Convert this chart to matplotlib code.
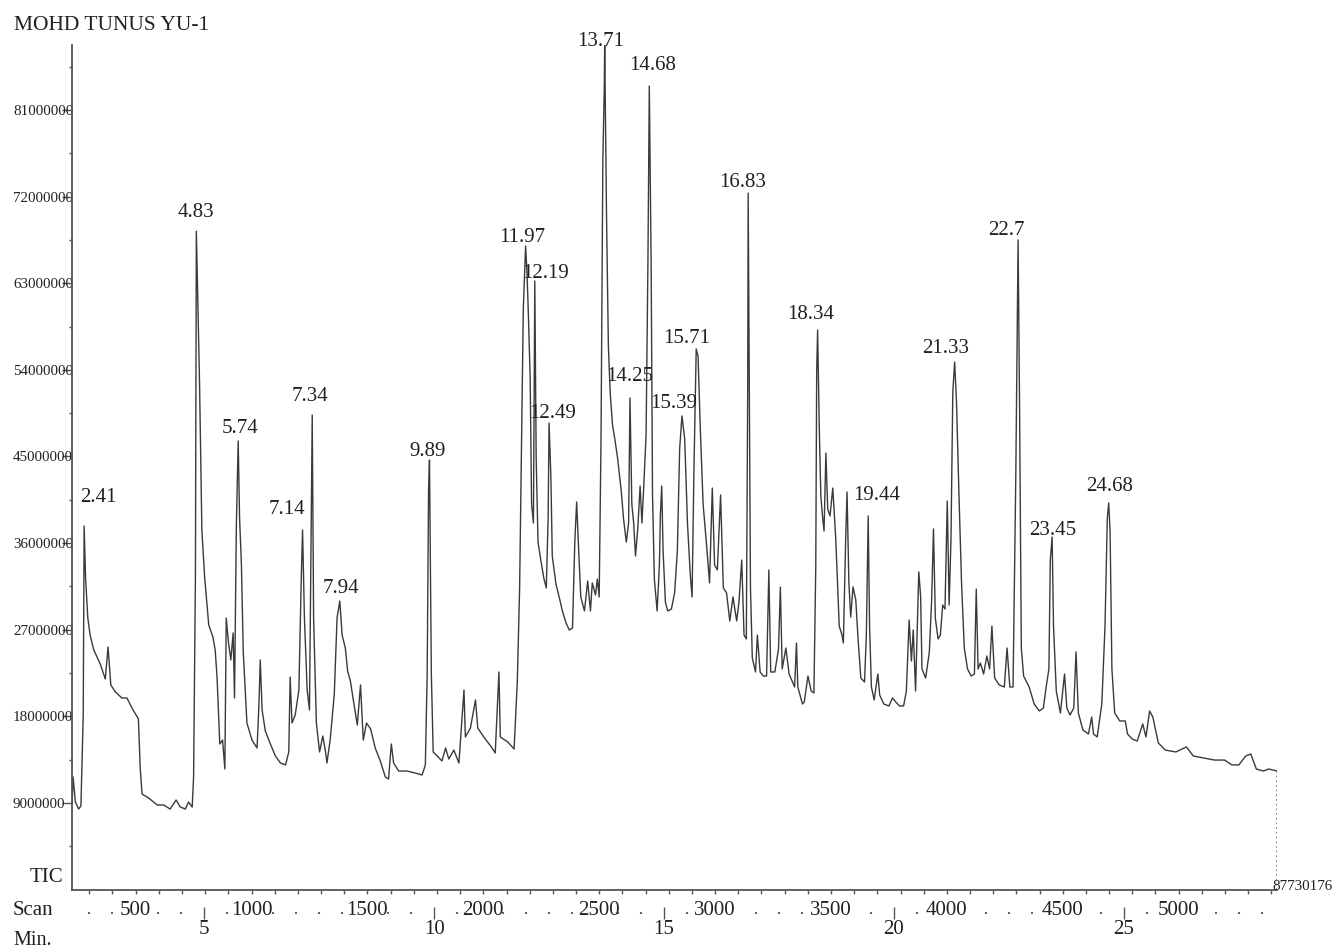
import numpy as np
import matplotlib
matplotlib.use('Agg')
import matplotlib.pyplot as plt
from matplotlib.ticker import FixedLocator

plt.rcParams['font.family'] = ['Liberation Serif', 'DejaVu Serif']

# --- data (time in min, intensity in millions of counts) ---
time_a = [2.13, 2.15, 2.20, 2.27, 2.32, 2.37, 2.39, 2.42, 2.47, 2.52,
          2.60, 2.74, 2.85, 2.91, 2.97, 3.07, 3.21, 3.32, 3.43, 3.57,
          3.61, 3.65, 3.79, 3.98, 4.12, 4.26, 4.39, 4.48, 4.59, 4.66,
          4.74, 4.77, 4.81, 4.83, 4.86, 4.90, 4.95, 5.01, 5.10, 5.19,
          5.24, 5.28, 5.34, 5.40, 5.45, 5.48, 5.53, 5.58, 5.63, 5.66,
          5.70, 5.74, 5.77, 5.81, 5.85, 5.93, 6.04, 6.15, 6.19, 6.22,
          6.26, 6.33, 6.44, 6.55, 6.66, 6.77, 6.84, 6.87, 6.91, 6.98,
          7.06, 7.11, 7.14, 7.18, 7.24, 7.29, 7.35, 7.38, 7.44, 7.51,
          7.58, 7.64, 7.67, 7.74, 7.83, 7.89, 7.95, 8.00, 8.07, 8.12,
          8.18, 8.25, 8.33, 8.40, 8.46, 8.53, 8.62, 8.72, 8.83, 8.94,
          9.01, 9.07, 9.12, 9.23, 9.41, 9.59, 9.74, 9.81, 9.85, 9.88,
          9.90, 9.94, 9.98, 10.07, 10.17, 10.25, 10.32, 10.43, 10.54]
tic_a = [9.05, 11.70, 9.10, 8.37, 8.69, 18.14, 37.78, 32.48, 28.22, 26.45,
         24.89, 23.44, 21.88, 25.21, 21.26, 20.53, 19.91, 19.91, 18.87, 17.73,
         12.53, 9.93, 9.52, 8.79, 8.79, 8.37, 9.31, 8.58, 8.37, 9.10,
         8.58, 11.70, 32.48, 68.40, 61.67, 52.53, 37.36, 32.48, 27.49, 26.24,
         24.89, 22.09, 15.13, 15.54, 12.53, 28.22, 25.62, 23.86, 26.66, 19.91,
         37.78, 46.61, 38.61, 33.83, 24.69, 17.31, 15.54, 14.71, 19.08, 23.86,
         18.66, 16.48, 15.13, 13.88, 13.15, 12.95, 14.30, 22.09, 17.31, 18.14,
         20.74, 32.06, 37.36, 28.22, 20.74, 18.66, 49.31, 28.22, 17.31, 14.30,
         15.96, 14.30, 13.15, 15.54, 20.32, 28.22, 29.98, 26.45, 25.10, 22.71,
         21.67, 19.49, 17.10, 21.26, 15.54, 17.31, 16.69, 14.71, 13.36, 11.70,
         11.49, 15.13, 13.15, 12.32, 12.32, 12.11, 11.91, 12.95, 22.50, 41.62,
         44.63, 22.50, 14.30, 13.88, 13.36, 14.71, 13.57, 14.50, 13.15]

time_b = [10.65, 10.68, 10.79, 10.90, 10.95, 11.08, 11.23, 11.33, 11.41, 11.44,
          11.60, 11.74, 11.81, 11.86, 11.90, 11.94, 11.99, 12.02, 12.05, 12.09,
          12.12, 12.16, 12.19, 12.22, 12.26, 12.32, 12.39, 12.44, 12.48, 12.50,
          12.54, 12.57, 12.65, 12.72, 12.79, 12.87, 12.94, 13.01, 13.06, 13.10,
          13.14, 13.19, 13.27, 13.34, 13.40, 13.44, 13.51, 13.55, 13.59, 13.63,
          13.67, 13.70, 13.71, 13.75, 13.79, 13.83, 13.88, 13.93, 13.99, 14.07,
          14.12, 14.18, 14.23, 14.26, 14.30, 14.34, 14.38, 14.43, 14.48, 14.52,
          14.56, 14.61, 14.65, 14.68, 14.72, 14.75, 14.79, 14.85, 14.90, 14.92,
          14.95, 14.98, 15.03, 15.08, 15.16, 15.23, 15.29, 15.34, 15.39, 15.45,
          15.51, 15.57, 15.61, 15.65, 15.70, 15.74, 15.79, 15.85, 15.92, 15.99,
          16.05, 16.10, 16.16, 16.23, 16.29, 16.36, 16.43, 16.50, 16.58, 16.63,
          16.69, 16.74, 16.79, 16.82, 16.83, 16.88, 16.92, 16.99, 17.03, 17.09,
          17.16, 17.23, 17.28, 17.32, 17.41, 17.49]
tic_b = [20.74, 15.86, 16.79, 19.70, 16.79, 15.86, 14.92, 14.19, 22.61, 15.86,
         15.34, 14.61, 21.67, 31.34, 45.78, 60.32, 66.87, 64.17, 59.80, 53.05,
         40.06, 38.09, 63.23, 44.84, 36.11, 34.24, 32.27, 31.34, 38.61, 48.48,
         42.87, 34.66, 31.75, 30.40, 28.95, 27.70, 26.97, 27.18, 36.11, 40.27,
         35.70, 30.40, 28.95, 32.06, 28.95, 31.86, 30.61, 32.27, 30.40, 46.82,
         75.80, 83.08, 87.73, 69.98, 56.48, 51.60, 48.27, 46.82, 44.84, 41.41,
         38.50, 36.11, 38.09, 51.08, 40.06, 38.09, 34.66, 37.57, 41.93, 38.09,
         41.93, 47.23, 65.10, 83.49, 65.10, 41.00, 32.27, 28.95, 33.73, 38.82,
         41.93, 35.18, 29.88, 28.95, 29.15, 30.82, 35.18, 45.78, 49.21, 46.82,
         38.09, 32.79, 30.40, 43.39, 56.17, 55.44, 47.75, 40.06, 36.11, 31.86,
         41.72, 33.73, 33.21, 41.00, 31.34, 30.82, 27.91, 30.40, 27.91, 29.88,
         34.24, 26.45, 26.04, 52.11, 72.37, 31.34, 24.06, 22.61, 26.45, 22.61,
         22.19, 22.19, 33.21, 22.61, 22.61, 25.00]

time_c = [17.53, 17.57, 17.65, 17.72, 17.84, 17.88, 17.91, 18.01, 18.05, 18.13,
          18.20, 18.26, 18.30, 18.32, 18.34, 18.38, 18.41, 18.45, 18.48, 18.52,
          18.56, 18.61, 18.67, 18.73, 18.77, 18.81, 18.87, 18.90, 18.95, 18.98,
          19.02, 19.06, 19.11, 19.17, 19.22, 19.28, 19.36, 19.40, 19.44, 19.47,
          19.51, 19.57, 19.65, 19.69, 19.78, 19.89, 19.97, 20.04, 20.12, 20.21,
          20.27, 20.33, 20.38, 20.42, 20.47, 20.54, 20.58, 20.61, 20.69, 20.77,
          20.82, 20.86, 20.90, 20.96, 21.01, 21.06, 21.11, 21.16, 21.20, 21.24,
          21.28, 21.32, 21.36, 21.41, 21.47, 21.53, 21.60, 21.68, 21.75, 21.79,
          21.83, 21.88, 21.95, 22.02, 22.08, 22.13, 22.19, 22.29, 22.40, 22.46,
          22.52, 22.59, 22.65, 22.70, 22.73, 22.77, 22.82, 22.94, 23.05, 23.16,
          23.25, 23.31, 23.37, 23.40, 23.44, 23.47, 23.53, 23.62, 23.68, 23.71,
          23.76, 23.83, 23.91, 23.96, 24.01, 24.11, 24.23, 24.30, 24.34, 24.42,
          24.52, 24.59, 24.64, 24.67, 24.70, 24.74, 24.80, 24.91, 25.03, 25.08,
          25.18, 25.29, 25.41, 25.48, 25.56, 25.63, 25.75, 25.90, 26.13, 26.36,
          26.51, 26.74, 26.97, 27.19, 27.35, 27.50, 27.65, 27.76, 27.88, 28.03,
          28.15, 28.33]
tic_c = [31.44, 22.92, 25.10, 22.40, 21.05, 25.62, 21.05, 19.28, 19.49, 22.19,
         20.63, 20.43, 33.62, 53.88, 58.14, 47.13, 40.89, 38.61, 37.26, 45.36,
         39.54, 38.82, 41.72, 36.84, 32.27, 27.39, 26.45, 25.62, 36.32, 41.31,
         31.86, 28.32, 31.44, 30.09, 26.04, 21.98, 21.57, 26.45, 38.82, 27.39,
         21.05, 19.70, 22.40, 20.22, 19.28, 19.08, 19.91, 19.49, 19.08, 19.08,
         20.63, 28.01, 23.75, 26.97, 20.63, 33.00, 30.50, 22.92, 21.98, 24.69,
         30.09, 37.47, 28.22, 26.04, 26.45, 29.57, 29.15, 40.37, 29.57, 36.32,
         51.70, 54.82, 50.76, 41.72, 31.86, 25.10, 22.92, 22.19, 22.40, 31.23,
         22.92, 23.54, 22.40, 24.27, 22.92, 27.39, 21.98, 21.26, 21.05, 25.10,
         21.05, 21.05, 43.08, 67.50, 51.18, 25.10, 22.19, 21.05, 19.28, 18.56,
         18.87, 21.05, 22.92, 34.24, 36.63, 27.39, 20.63, 18.35, 21.05, 22.40,
         18.87, 18.14, 18.87, 24.69, 18.35, 16.58, 16.17, 17.93, 16.17, 15.86,
         19.28, 27.39, 38.61, 40.17, 37.26, 22.92, 18.35, 17.52, 17.52, 16.17,
         15.65, 15.44, 17.21, 15.86, 18.56, 17.93, 15.23, 14.50, 14.30, 14.82,
         13.88, 13.67, 13.46, 13.46, 12.95, 12.95, 13.88, 14.09, 12.53, 12.32,
         12.53, 12.32]

peak_labels = ['2.41', '4.83', '5.74', '7.14', '7.34', '7.94', '9.89', '11.97',
               '12.19', '12.49', '13.71', '14.25', '14.68', '15.39', '15.71',
               '16.83', '18.34', '19.44', '21.33', '22.7', '23.45', '24.68']
# label centre relative to peak top, in pixels (right, down)
label_shift = [(14, -28), (0, -19), (2, -12), (-16, -21), (-2, -18), (1, -13),
               (-2, -9), (-3, -8), (11, -8), (4, -9), (-4, -4), (0, -21),
               (3, -21), (-8, -12), (-10, -10), (-6, -11), (-7, -16), (8, -20),
               (-9, -13), (-12, -9), (1, -7), (1, -16)]

tic_max = 87730176
scan_labels = [500, 1000, 1500, 2000, 2500, 3000, 3500, 4000, 4500, 5000]
scans_per_min = 198.4
scan_t0 = 0.99

t = np.array(time_a + time_b + time_c)
v = np.array(tic_a + tic_b + tic_c) * 1e6

ink = '#231f20'
fig = plt.figure(figsize=(13.33, 9.51), dpi=100)
ax = fig.add_axes([72 / 1333, (951 - 889.6) / 951, 1205 / 1333, (889.6 - 45.2) / 951])

ax.plot(t, v, color='#3a3a3a', lw=1.0)
ax.vlines(t[-1], 0, v[-1], colors='#777777', linestyles=(0, (1, 1.6)), lw=1.3)

ax.set_xlim(2.126, t[-1])
ax.set_ylim(0, tic_max)
for s in ['top', 'right']:
    ax.spines[s].set_visible(False)
for s in ['left', 'bottom']:
    ax.spines[s].set_color('#555555')
    ax.spines[s].set_linewidth(1.3)

# y axis
yt = np.arange(9e6, 82e6, 9e6)
ax.set_yticks(yt)
ax.set_yticklabels([str(int(y)) for y in yt])
ax.yaxis.set_minor_locator(FixedLocator(np.arange(4.5e6, 87e6, 9e6)))
ax.tick_params(axis='y', which='major', length=7, width=1, color='#555555',
               pad=35.5, labelsize=10.8, labelcolor=ink)
ax.tick_params(axis='y', which='minor', length=2.5, width=1, color='#555555')
for lab in ax.get_yticklabels():
    lab.set_horizontalalignment('left')

# scan axis
def scan_to_min(s):
    return scan_t0 + np.asarray(s) / scans_per_min

ax.set_xticks(scan_to_min(scan_labels))
ax.set_xticklabels([str(s) for s in scan_labels])
ax.xaxis.set_minor_locator(FixedLocator(scan_to_min(np.arange(300, 5500, 100))))
ax.tick_params(axis='x', which='both', length=3, width=1, color='#555555', direction='out')
ax.tick_params(axis='x', which='major', pad=5, labelsize=15, labelcolor=ink)

# minute axis (dots every 0.5 min, bars every 5 min)
sec = ax.secondary_xaxis(-(913 - 889.6) / 844.4)
sec.spines['bottom'].set_visible(False)
minute_major = [5, 10, 15, 20, 25]
sec.set_xticks(minute_major)
sec.set_xticklabels([str(m) for m in minute_major])
scan_pos = scan_to_min(scan_labels)
dots = [m for m in np.arange(2.5, 28.5, 0.5)
        if m not in minute_major and np.min(np.abs(scan_pos - m)) > 0.4]
sec.xaxis.set_minor_locator(FixedLocator(dots))
sec.tick_params(which='major', direction='inout', length=8.6, width=1, color='#555555',
                pad=0.7, labelsize=15, labelcolor=ink)
sec.tick_params(which='minor', direction='inout', length=1.5, width=1.5, color='#666666')

# peak labels
for lab, (dx, dy) in zip(peak_labels, label_shift):
    rt = float(lab)
    near = np.where(np.abs(t - rt) <= 0.04)[0]
    i = near[np.argmax(v[near])]
    ax.annotate(lab, xy=(t[i], v[i]), xytext=(dx * 0.72, -dy * 0.72),
                textcoords='offset points', ha='center', va='center',
                fontsize=15, color=ink)

ax.annotate(str(tic_max), xy=(t[-1], 0), xytext=(-3.6, 0), textcoords='offset points',
            ha='left', va='baseline', fontsize=10.8, color=ink, annotation_clip=False)

fig.text(14 / 1333, 1 - 30 / 951, 'MOHD TUNUS YU-1', ha='left', va='baseline',
         fontsize=15.5, color=ink)
fig.text(63 / 1333, 1 - 882 / 951, 'TIC', ha='right', va='baseline', fontsize=15, color=ink)
fig.text(13 / 1333, 1 - 915 / 951, 'Scan', ha='left', va='baseline', fontsize=15, color=ink)
fig.text(13 / 1333, 1 - 945 / 951, 'Min.', ha='left', va='baseline', fontsize=14.5, color=ink)

fig.savefig('out.png', dpi=100)
